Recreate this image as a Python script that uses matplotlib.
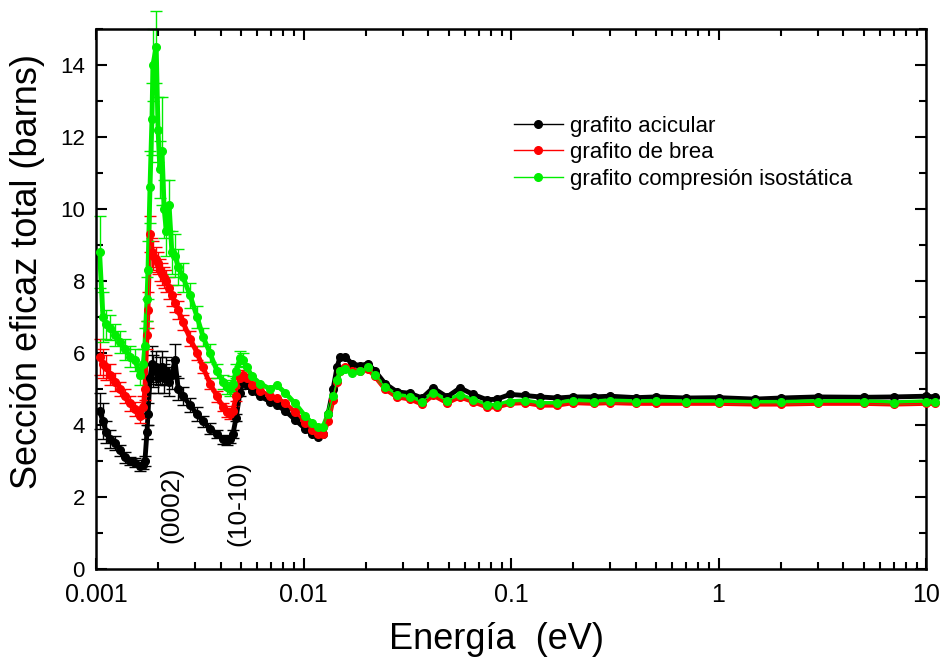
import matplotlib
matplotlib.use("Agg")
import matplotlib.pyplot as plt
from matplotlib.ticker import FixedLocator, FixedFormatter, LogLocator, NullFormatter, MultipleLocator
from matplotlib import font_manager

# ---------------- data ----------------
energy = [0.00104, 0.00108, 0.00112, 0.00117, 0.00124, 0.00131, 0.00138, 0.00146, 0.00154, 0.00163,
          0.00169, 0.00172, 0.00176, 0.00178, 0.00182, 0.00186, 0.00188, 0.00195, 0.00199, 0.00203,
          0.00208, 0.00213, 0.00218, 0.00225, 0.00232, 0.00240, 0.00249, 0.00263, 0.00284, 0.00307,
          0.00328, 0.00354, 0.00383, 0.00409, 0.00428, 0.00442, 0.00457, 0.00473, 0.00494, 0.00511,
          0.00534, 0.00565, 0.00617, 0.00690, 0.00746, 0.00814, 0.00910, 0.01017, 0.01099, 0.01175,
          0.01242, 0.01313, 0.01388, 0.01450, 0.01500, 0.01585, 0.01713, 0.01872, 0.02046, 0.02211,
          0.02471, 0.02823, 0.03261, 0.03725, 0.04209, 0.04915, 0.05678, 0.06561, 0.07662, 0.08561,
          0.0989, 0.1168, 0.1380, 0.1666, 0.199, 0.25, 0.3, 0.4, 0.5, 0.7,
          1.0, 1.5, 2.0, 3.0, 5.0, 7.0, 10.0, 11.0]

acicular = [4.4, 4.1, 3.8, 3.6, 3.5, 3.3, 3.1, 3.0, 2.95, 2.85,
            2.9, 3.0, 3.8, 4.3, 5.3, 5.7, 5.5, 5.6, 5.3, 5.5,
            5.6, 5.3, 5.5, 5.2, 5.4, 5.8, 5.0, 4.8, 4.55, 4.3,
            4.1, 3.9, 3.75, 3.6, 3.55, 3.6, 3.75, 4.2, 4.9, 5.2,
            5.1, 4.95, 4.8, 4.65, 4.55, 4.4, 4.15, 3.9, 3.75, 3.67,
            3.75, 4.3, 5.0, 5.6, 5.9, 5.9, 5.7, 5.65, 5.7, 5.5,
            5.15, 4.92, 4.88, 4.75, 5.03, 4.78, 5.03, 4.85, 4.7, 4.72,
            4.85, 4.82, 4.78, 4.75, 4.78, 4.78, 4.8, 4.76, 4.78, 4.75,
            4.76, 4.72, 4.75, 4.78, 4.77, 4.78, 4.8, 4.78]

brea = [5.9, 5.7, 5.6, 5.4, 5.2, 5.0, 4.8, 4.6, 4.45, 4.25,
        4.5, 5.0, 6.5, 7.2, 9.3, 8.8, 8.7, 8.6, 8.5, 8.3,
        8.2, 8.1, 8.0, 7.8, 7.6, 7.4, 7.2, 6.85, 6.4, 6.0,
        5.6, 5.15, 4.8, 4.5, 4.35, 4.3, 4.4, 4.8, 5.3, 5.4,
        5.3, 5.1, 4.95, 4.8, 4.75, 4.6, 4.35, 4.05, 3.85, 3.75,
        3.75, 4.1, 4.7, 5.2, 5.5, 5.6, 5.5, 5.5, 5.55, 5.35,
        5.0, 4.78, 4.72, 4.58, 4.83, 4.62, 4.78, 4.65, 4.5, 4.5,
        4.6, 4.62, 4.55, 4.55, 4.62, 4.6, 4.62, 4.6, 4.6, 4.6,
        4.6, 4.58, 4.58, 4.6, 4.6, 4.58, 4.6, 4.6]

isostatica = [8.8, 7.0, 6.8, 6.7, 6.5, 6.3, 6.1, 5.9, 5.8, 5.4,
              5.7, 6.2, 7.5, 8.3, 10.6, 12.5, 14.0, 14.5, 12.2, 11.1,
              11.6, 10.0, 9.4, 10.1, 8.8, 8.7, 8.4, 8.1, 7.6, 7.0,
              6.45, 6.0, 5.5, 5.2, 5.05, 5.0, 5.15, 5.5, 5.85, 5.8,
              5.6, 5.35, 5.15, 5.0, 5.1, 4.9, 4.6, 4.25, 4.05, 3.95,
              3.95, 4.3, 4.8, 5.25, 5.5, 5.55, 5.45, 5.5, 5.6, 5.4,
              5.05, 4.83, 4.78, 4.64, 4.89, 4.68, 4.83, 4.7, 4.55, 4.55,
              4.65, 4.67, 4.6, 4.6, 4.68, 4.65, 4.67, 4.65, 4.66, 4.65,
              4.65, 4.63, 4.63, 4.65, 4.65, 4.62, 4.65, 4.65]

# error bars (low-energy part, first 40 points)
err_acicular = [0.5, 0.5, 0.3, 0.25, 0.2, 0.15, 0.15, 0.12, 0.12, 0.12,
                0.12, 0.15, 0.2, 0.3, 0.4, 0.5, 0.45, 0.45, 0.4, 0.4,
                0.45, 0.4, 0.4, 0.4, 0.4, 0.45, 0.3, 0.25, 0.2, 0.2,
                0.15, 0.15, 0.12, 0.12, 0.1, 0.1, 0.1, 0.1, 0.1, 0.1]
err_brea = [0.5, 0.4, 0.35, 0.3, 0.25, 0.2, 0.2, 0.2, 0.2, 0.2,
            0.3, 0.3, 0.4, 0.5, 0.5, 0.4, 0.4, 0.35, 0.3, 0.3,
            0.3, 0.3, 0.3, 0.3, 0.3, 0.25, 0.25, 0.2, 0.2, 0.2,
            0.15, 0.15, 0.15, 0.12, 0.12, 0.12, 0.12, 0.12, 0.12, 0.12]
err_isostatica = [1.0, 0.7, 0.4, 0.35, 0.3, 0.3, 0.3, 0.3, 0.3, 0.3,
                  0.4, 0.5, 0.6, 0.8, 1.0, 1.0, 1.0, 1.0, 0.9, 0.8,
                  1.5, 0.8, 0.7, 0.7, 0.6, 0.6, 0.5, 0.4, 0.35, 0.3,
                  0.25, 0.25, 0.2, 0.2, 0.2, 0.2, 0.2, 0.2, 0.2, 0.2]

labels = ["grafito acicular", "grafito de brea", "grafito compresión isostática"]
colors = ["#000000", "#ff0000", "#00ee00"]

xticks = [0.001, 0.01, 0.1, 1, 10]
xticklabels = ["0.001", "0.01", "0.1", "1", "10"]
yticks = [0, 2, 4, 6, 8, 10, 12, 14]

# ---------------- plot ----------------
avail = {f.name for f in font_manager.fontManager.ttflist}
fam = "Liberation Sans Narrow" if "Liberation Sans Narrow" in avail else "Liberation Sans"
plt.rcParams["font.family"] = [fam, "DejaVu Sans"]

fig = plt.figure(figsize=(9.48, 6.66), dpi=100)
ax = fig.add_axes([0.1013, 0.1456, 0.8755, 0.8109])

series = [acicular, brea, isostatica]
errs = [err_acicular, err_brea, err_isostatica]
n_err = len(err_acicular)
for vals, er, col, lab in zip(series, errs, colors, labels):
    ax.errorbar(energy[:n_err], vals[:n_err], yerr=er, fmt="none", ecolor=col,
                elinewidth=1.0, capsize=4, capthick=1.0, clip_on=False, zorder=2)
    ax.plot(energy, vals, "-", color=col, lw=3.5, clip_on=False, zorder=2)
    ax.plot(energy, vals, "-o", color=col, lw=1, ms=5.5, clip_on=False, zorder=3, label=lab)

ax.set_xscale("log")
ax.set_xlim(0.001, 10)
ax.set_ylim(0, 15)

ax.xaxis.set_major_locator(FixedLocator(xticks))
ax.xaxis.set_major_formatter(FixedFormatter(xticklabels))
ax.xaxis.set_minor_locator(LogLocator(base=10, subs=[2, 3, 4, 5, 6, 7, 8, 9], numticks=20))
ax.xaxis.set_minor_formatter(NullFormatter())
ax.yaxis.set_major_locator(FixedLocator(yticks))
ax.yaxis.set_minor_locator(MultipleLocator(1))

ax.tick_params(which="both", direction="in", top=True, right=True, width=1.5)
ax.tick_params(which="major", length=8)
ax.tick_params(which="minor", length=5)
ax.tick_params(axis="x", labelsize=18, pad=10)
ax.tick_params(axis="y", labelsize=16, pad=8)
for s in ax.spines.values():
    s.set_linewidth(1.8)

ax.set_xlabel("Energía  (eV)", fontsize=26)
ax.xaxis.set_label_coords(0.482, -0.098)
ax.set_ylabel("Sección eficaz total (barns)", fontsize=26)
ax.yaxis.set_label_coords(-0.062, 0.55)

ax.text(0.0023, 1.78, "(0002)", rotation=90, fontsize=19, ha="center", va="center")
ax.text(0.00484, 1.83, "(10-10)", rotation=90, fontsize=19, ha="center", va="center")

leg = ax.legend(loc="upper left", bbox_to_anchor=(0.49, 0.86), frameon=False, fontsize=16,
                handlelength=2.2, handletextpad=0.35, labelspacing=0.25, numpoints=1, borderpad=0)

fig.savefig("out.png", dpi=100)
